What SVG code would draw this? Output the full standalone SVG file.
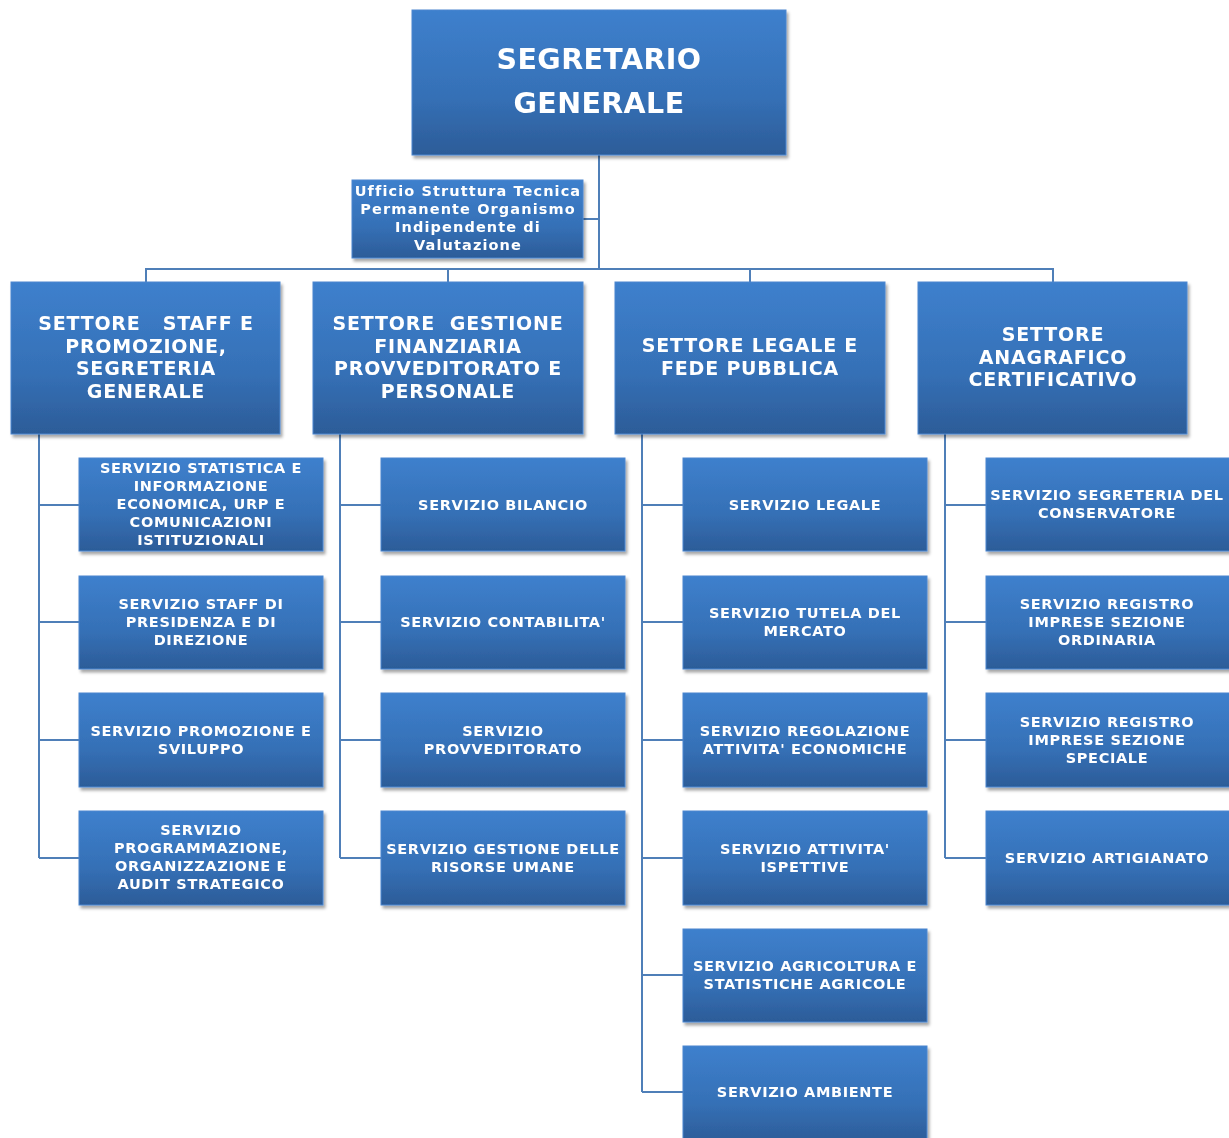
<svg xmlns="http://www.w3.org/2000/svg" width="1229" height="1138" viewBox="0 0 1229 1138">
<style>
.box{fill:url(#g);stroke:#4a86cf;stroke-width:1}
.t{font-family:"DejaVu Sans","Verdana",sans-serif;font-weight:bold;fill:#fff;text-anchor:middle;dominant-baseline:central}
.t0{font-size:28.5px;letter-spacing:0.4px}
.t1{font-size:19px;letter-spacing:0.8px}
.t2{font-size:14.5px;letter-spacing:0.65px}
.tu{font-size:14.5px;letter-spacing:1.1px}
.c{fill:none;stroke:#4f7fb8;stroke-width:2}
</style>
<defs>
<linearGradient id="g" x1="0" y1="0" x2="0" y2="1">
<stop offset="0" stop-color="#3e80cd"/>
<stop offset="0.6" stop-color="#3570b6"/>
<stop offset="1" stop-color="#2c5c98"/>
</linearGradient>
<filter id="sh" x="-5%" y="-5%" width="115%" height="120%">
<feDropShadow dx="2" dy="3" stdDeviation="1.5" flood-color="#000" flood-opacity="0.35"/>
</filter>
</defs>
<rect width="1229" height="1138" fill="#fff"/>
<g id="connectors">
<path class="c" d="M599 155V269M583 219H599M146 282V269H1053V282M448 269V282M750 269V282"/>
<path class="c" d="M39 434V858M39 505H79M39 622H79M39 740H79M39 858H79"/>
<path class="c" d="M340 434V858M340 505H381M340 622H381M340 740H381M340 858H381"/>
<path class="c" d="M642 434V1092M642 505H683M642 622H683M642 740H683M642 858H683M642 975H683M642 1092H683"/>
<path class="c" d="M945 434V858M945 505H986M945 622H986M945 740H986M945 858H986"/>
</g>
<g id="segretario" filter="url(#sh)"><rect class="box" x="412" y="10" width="374" height="145"/>
<text class="t t0" x="599" y="59">SEGRETARIO</text><text class="t t0" x="599" y="103">GENERALE</text></g>
<g id="ufficio" filter="url(#sh)"><rect class="box" x="352" y="180" width="231" height="78"/>
<text class="t tu" x="468" y="191">Ufficio Struttura Tecnica</text><text class="t tu" x="468" y="209">Permanente Organismo</text><text class="t tu" x="468" y="227">Indipendente di</text><text class="t tu" x="468" y="245">Valutazione</text></g>
<g id="settore-staff" filter="url(#sh)"><rect class="box" x="11" y="282" width="269" height="152"/>
<text class="t t1" x="146" y="323" xml:space="preserve">SETTORE   STAFF E</text><text class="t t1" x="146" y="346">PROMOZIONE,</text><text class="t t1" x="146" y="368">SEGRETERIA</text><text class="t t1" x="146" y="391">GENERALE</text></g>
<g id="settore-gestione" filter="url(#sh)"><rect class="box" x="313" y="282" width="270" height="152"/>
<text class="t t1" x="448" y="323" xml:space="preserve">SETTORE  GESTIONE</text><text class="t t1" x="448" y="346">FINANZIARIA</text><text class="t t1" x="448" y="368">PROVVEDITORATO E</text><text class="t t1" x="448" y="391">PERSONALE</text></g>
<g id="settore-legale" filter="url(#sh)"><rect class="box" x="615" y="282" width="270" height="152"/>
<text class="t t1" x="750" y="345">SETTORE LEGALE E</text><text class="t t1" x="750" y="368">FEDE PUBBLICA</text></g>
<g id="settore-anagrafico" filter="url(#sh)"><rect class="box" x="918" y="282" width="269" height="152"/>
<text class="t t1" x="1053" y="334">SETTORE</text><text class="t t1" x="1053" y="357">ANAGRAFICO</text><text class="t t1" x="1053" y="379">CERTIFICATIVO</text></g>

<g id="s-statistica" filter="url(#sh)"><rect class="box" x="79" y="458" width="244" height="93"/>
<text class="t t2" x="201" y="468">SERVIZIO STATISTICA E</text><text class="t t2" x="201" y="486">INFORMAZIONE</text><text class="t t2" x="201" y="504">ECONOMICA, URP E</text><text class="t t2" x="201" y="522">COMUNICAZIONI</text><text class="t t2" x="201" y="540">ISTITUZIONALI</text></g>
<g id="s-staff" filter="url(#sh)"><rect class="box" x="79" y="576" width="244" height="93"/>
<text class="t t2" x="201" y="604">SERVIZIO STAFF DI</text><text class="t t2" x="201" y="622">PRESIDENZA E DI</text><text class="t t2" x="201" y="640">DIREZIONE</text></g>
<g id="s-promozione" filter="url(#sh)"><rect class="box" x="79" y="693" width="244" height="94"/>
<text class="t t2" x="201" y="731">SERVIZIO PROMOZIONE E</text><text class="t t2" x="201" y="749">SVILUPPO</text></g>
<g id="s-programmazione" filter="url(#sh)"><rect class="box" x="79" y="811" width="244" height="94"/>
<text class="t t2" x="201" y="830">SERVIZIO</text><text class="t t2" x="201" y="848">PROGRAMMAZIONE,</text><text class="t t2" x="201" y="866">ORGANIZZAZIONE E</text><text class="t t2" x="201" y="884">AUDIT STRATEGICO</text></g>

<g id="s-bilancio" filter="url(#sh)"><rect class="box" x="381" y="458" width="244" height="93"/>
<text class="t t2" x="503" y="505">SERVIZIO BILANCIO</text></g>
<g id="s-contabilita" filter="url(#sh)"><rect class="box" x="381" y="576" width="244" height="93"/>
<text class="t t2" x="503" y="622">SERVIZIO CONTABILITA'</text></g>
<g id="s-provveditorato" filter="url(#sh)"><rect class="box" x="381" y="693" width="244" height="94"/>
<text class="t t2" x="503" y="731">SERVIZIO</text><text class="t t2" x="503" y="749">PROVVEDITORATO</text></g>
<g id="s-risorse" filter="url(#sh)"><rect class="box" x="381" y="811" width="244" height="94"/>
<text class="t t2" x="503" y="849">SERVIZIO GESTIONE DELLE</text><text class="t t2" x="503" y="867">RISORSE UMANE</text></g>

<g id="s-legale" filter="url(#sh)"><rect class="box" x="683" y="458" width="244" height="93"/>
<text class="t t2" x="805" y="505">SERVIZIO LEGALE</text></g>
<g id="s-tutela" filter="url(#sh)"><rect class="box" x="683" y="576" width="244" height="93"/>
<text class="t t2" x="805" y="613">SERVIZIO TUTELA DEL</text><text class="t t2" x="805" y="631">MERCATO</text></g>
<g id="s-regolazione" filter="url(#sh)"><rect class="box" x="683" y="693" width="244" height="94"/>
<text class="t t2" x="805" y="731">SERVIZIO REGOLAZIONE</text><text class="t t2" x="805" y="749">ATTIVITA' ECONOMICHE</text></g>
<g id="s-ispettive" filter="url(#sh)"><rect class="box" x="683" y="811" width="244" height="94"/>
<text class="t t2" x="805" y="849">SERVIZIO ATTIVITA'</text><text class="t t2" x="805" y="867">ISPETTIVE</text></g>
<g id="s-agricoltura" filter="url(#sh)"><rect class="box" x="683" y="929" width="244" height="93"/>
<text class="t t2" x="805" y="966">SERVIZIO AGRICOLTURA E</text><text class="t t2" x="805" y="984">STATISTICHE AGRICOLE</text></g>
<g id="s-ambiente" filter="url(#sh)"><rect class="box" x="683" y="1046" width="244" height="96"/>
<text class="t t2" x="805" y="1092">SERVIZIO AMBIENTE</text></g>

<g id="s-segreteria" filter="url(#sh)"><rect class="box" x="986" y="458" width="246" height="93"/>
<text class="t t2" x="1107" y="495">SERVIZIO SEGRETERIA DEL</text><text class="t t2" x="1107" y="513">CONSERVATORE</text></g>
<g id="s-ri-ordinaria" filter="url(#sh)"><rect class="box" x="986" y="576" width="246" height="93"/>
<text class="t t2" x="1107" y="604">SERVIZIO REGISTRO</text><text class="t t2" x="1107" y="622">IMPRESE SEZIONE</text><text class="t t2" x="1107" y="640">ORDINARIA</text></g>
<g id="s-ri-speciale" filter="url(#sh)"><rect class="box" x="986" y="693" width="246" height="94"/>
<text class="t t2" x="1107" y="722">SERVIZIO REGISTRO</text><text class="t t2" x="1107" y="740">IMPRESE SEZIONE</text><text class="t t2" x="1107" y="758">SPECIALE</text></g>
<g id="s-artigianato" filter="url(#sh)"><rect class="box" x="986" y="811" width="246" height="94"/>
<text class="t t2" x="1107" y="858">SERVIZIO ARTIGIANATO</text></g>
</svg>
